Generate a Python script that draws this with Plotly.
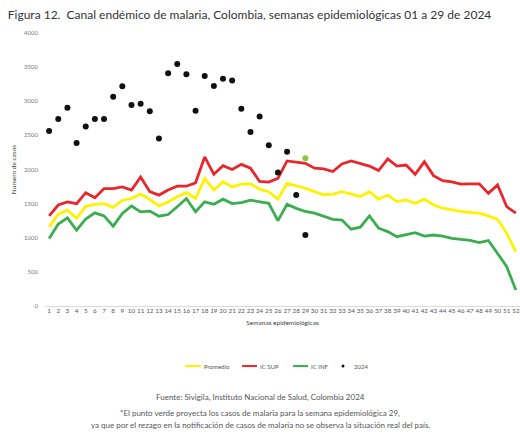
import plotly.graph_objects as go

# Semanas epidemiológicas
semanas = list(range(1, 53))

# Canal endémico
promedio = [1160, 1345, 1405, 1285, 1460, 1490, 1500, 1445, 1550, 1575,
            1640, 1560, 1465, 1525, 1600, 1660, 1575, 1865, 1700, 1820,
            1745, 1785, 1790, 1710, 1675, 1565, 1795, 1760, 1725, 1675,
            1630, 1640, 1675, 1640, 1605, 1675, 1565, 1625, 1530, 1555,
            1505, 1565, 1480, 1435, 1405, 1385, 1370, 1360, 1320, 1270,
            1065, 795]
ic_sup = [1320, 1480, 1525, 1500, 1660, 1585, 1720, 1720, 1745, 1700,
          1890, 1675, 1625, 1700, 1755, 1755, 1805, 2185, 1930, 2055,
          2000, 2075, 2020, 1825, 1815, 1870, 2125, 2110, 2090, 2020,
          2010, 1970, 2080, 2125, 2090, 2050, 1985, 2155, 2050, 2065,
          1930, 2115, 1910, 1835, 1820, 1785, 1790, 1790, 1650, 1775,
          1455, 1360]
ic_inf = [990, 1200, 1290, 1110, 1275, 1365, 1320, 1170, 1355, 1465,
          1380, 1390, 1315, 1340, 1455, 1575, 1380, 1525, 1490, 1565,
          1500, 1515, 1550, 1530, 1505, 1250, 1490, 1430, 1385, 1360,
          1320, 1270, 1260, 1125, 1155, 1320, 1140, 1090, 1015, 1040,
          1075, 1025, 1040, 1025, 990, 975, 960, 930, 960, 770,
          575, 235]

# Casos 2024, semanas 1 a 29
semanas_2024 = list(range(1, 30))
casos_2024 = [2565, 2740, 2905, 2390, 2630, 2740, 2740, 3065, 3220, 2945,
              2965, 2855, 2455, 3410, 3545, 3395, 2860, 3370, 3225, 3330,
              3305, 2890, 2550, 2775, 2355, 1955, 2260, 1625, 1040]

# Proyección semana 29 (punto verde)
semana_proy = [29]
casos_proy = [2165]

AMARILLO = "#FFF200"
ROJO = "#E8262B"
VERDE = "#3AAE4E"
NEGRO = "#111111"

fig = go.Figure()
fig.add_trace(go.Scatter(x=semanas, y=promedio, mode="lines", name="Promedio",
                         line=dict(color=AMARILLO, width=2.8)))
fig.add_trace(go.Scatter(x=semanas, y=ic_sup, mode="lines", name="IC SUP",
                         line=dict(color=ROJO, width=2.8)))
fig.add_trace(go.Scatter(x=semanas, y=ic_inf, mode="lines", name="IC INF",
                         line=dict(color=VERDE, width=2.8)))
fig.add_trace(go.Scatter(x=semanas_2024, y=casos_2024, mode="markers", name="2024",
                         marker=dict(color=NEGRO, size=6)))
fig.add_trace(go.Scatter(x=semana_proy, y=casos_proy, mode="markers",
                         marker=dict(color="#8CC63F", size=6)))

# leyenda compacta dibujada a mano (posiciones en px de la figura)
PL, PW = 45, 475          # borde izquierdo y ancho del área de trazado
def px(x):
    return (x - PL) / PW

ley_y = -0.22
shapes = []
annots = []
for x0, x1, color, texto in [(185, 201, AMARILLO, "Promedio"),
                             (242, 257, ROJO, "IC SUP"),
                             (293, 308, VERDE, "IC INF")]:
    shapes.append(dict(type="line", xref="paper", yref="paper",
                       x0=px(x0), x1=px(x1), y0=ley_y, y1=ley_y,
                       line=dict(color=color, width=2)))
    annots.append(dict(text=texto, x=px(x1 + 1), y=ley_y, xref="paper", yref="paper",
                       showarrow=False, xanchor="left", yanchor="middle",
                       font=dict(size=6, color="#555555")))
shapes.append(dict(type="circle", xref="paper", yref="paper",
                   x0=px(341.5), x1=px(344.5), y0=ley_y - 1.5 / 273, y1=ley_y + 1.5 / 273,
                   fillcolor=NEGRO, line=dict(width=0)))
annots.append(dict(text="2024", x=px(352), y=ley_y, xref="paper", yref="paper",
                   showarrow=False, xanchor="left", yanchor="middle",
                   font=dict(size=6, color="#555555")))

notas = [
    ("Fuente: Sivigila, Instituto Nacional de Salud, Colombia 2024", -0.333),
    ("*El punto verde proyecta los casos de malaria para la semana epidemiológica 29,", -0.392),
    ("ya que por el rezago en la notificación de casos de malaria no se observa la situación real del país.", -0.436),
]
for t, yy in notas:
    annots.append(dict(text=t, x=px(260), y=yy, xref="paper", yref="paper", showarrow=False,
                       xanchor="center", yanchor="middle", font=dict(size=8, color="#555555")))

fig.update_layout(
    width=520,
    height=440,
    paper_bgcolor="white",
    plot_bgcolor="white",
    showlegend=False,
    font=dict(family="Lato", color="#444444", size=6),
    margin=dict(l=PL, r=0, t=33, b=134),
    title=dict(
        text="Figura 12.  Canal endémico de malaria, Colombia, semanas epidemiológicas 01 a 29 de 2024",
        x=0.015, xanchor="left", xref="container",
        y=0.966, yanchor="middle", yref="container",
        font=dict(family="Lato", size=12, color="#333333"),
    ),
    xaxis=dict(
        range=[0.55, 52.45],
        tickmode="linear", tick0=1, dtick=1, tickangle=0,
        showgrid=False, zeroline=False, showline=False,
        tickfont=dict(size=6.3, color="#555555"),
        title=dict(text="Semanas epidemiológicas", font=dict(size=6.5, color="#444444"), standoff=7),
    ),
    yaxis=dict(
        range=[0, 4000],
        tickmode="linear", tick0=0, dtick=500,
        showgrid=False, zeroline=True, zerolinecolor="#D9D9D9", zerolinewidth=1,
        tickfont=dict(size=6, color="#777777"),
        ticklabelstandoff=6,
        title=dict(text="Numero de casos", font=dict(size=6.5, color="#444444"), standoff=6),
    ),
    shapes=shapes,
    annotations=annots,
)

fig.write_html("out.html", config={"displayModeBar": False},
               post_script="document.body.style.margin='0';")
